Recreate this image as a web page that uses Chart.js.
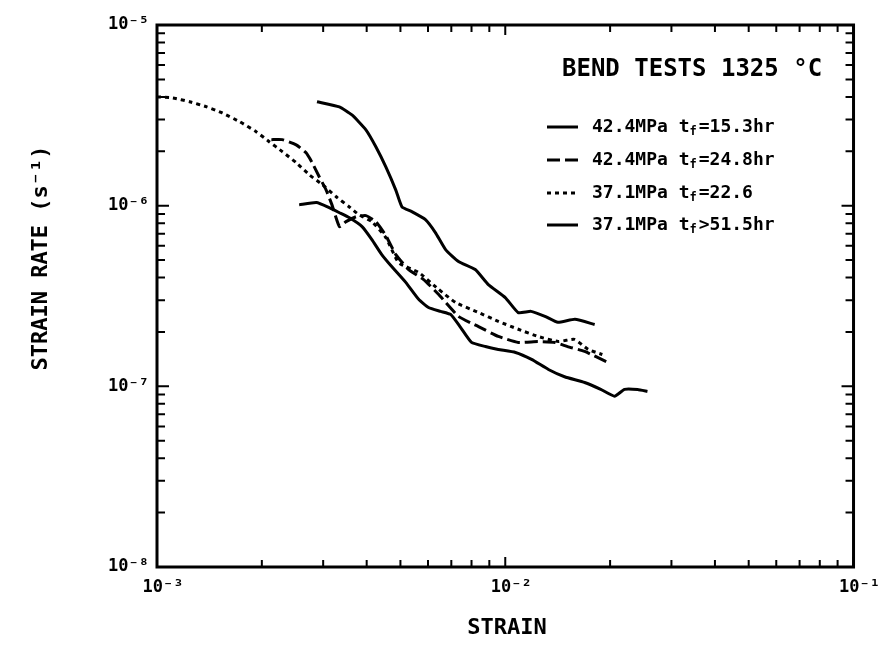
<!DOCTYPE html>
<html>
<head>
<meta charset="utf-8">
<script src="https://cdn.jsdelivr.net/npm/chart.js@4.4.0/dist/chart.umd.min.js"></script>
<style>
  html, body { margin: 0; padding: 0; background: #fff; }
  #wrap { width: 884px; height: 647px; }
</style>
</head>
<body>
<div id="wrap"><canvas id="bendChart" width="884" height="647"></canvas></div>
<script>
// bend tests at 1325 C : strain vs strain rate (1/s)
const strainA = [0.00288,0.00334,0.00363,0.00398,0.00425,0.00454,0.00485,0.00505,0.00539,0.0059,0.0063,0.00674,0.00734,0.0082,0.00894,0.0100,0.01089,0.01186,0.0130,0.01416,0.01585,0.01806];
const rateA   = [3.76e-6,3.52e-6,3.18e-6,2.63e-6,2.12e-6,1.64e-6,1.22e-6,9.86e-7,9.27e-7,8.37e-7,7.1e-7,5.71e-7,4.91e-7,4.43e-7,3.66e-7,3.10e-7,2.56e-7,2.60e-7,2.44e-7,2.26e-7,2.35e-7,2.20e-7];

const strainB = [0.00213,0.00229,0.00251,0.00268,0.00279,0.00292,0.00306,0.00318,0.00334,0.00349,0.00373,0.00398,0.00425,0.00454,0.00485,0.00528,0.00583,0.00644,0.00734,0.00838,0.00955,0.0109,0.0124,0.0139,0.0151,0.0169,0.0195];
const rateB   = [2.32e-6,2.32e-6,2.17e-6,1.96e-6,1.73e-6,1.45e-6,1.22e-6,1.01e-6,7.66e-7,8.16e-7,8.69e-7,8.81e-7,8.16e-7,6.83e-7,5.36e-7,4.43e-7,3.9e-7,3.22e-7,2.44e-7,2.14e-7,1.89e-7,1.75e-7,1.77e-7,1.75e-7,1.66e-7,1.56e-7,1.37e-7];

const strainC = [0.001,0.00111,0.00124,0.00139,0.00154,0.00173,0.00193,0.0021,0.00229,0.00251,0.00274,0.00298,0.00327,0.00356,0.0038,0.00414,0.00454,0.00494,0.00564,0.00644,0.0072,0.00838,0.00955,0.0109,0.0124,0.0142,0.0158,0.0173,0.019];
const rateC   = [4.0e-6,3.95e-6,3.76e-6,3.52e-6,3.26e-6,2.91e-6,2.56e-6,2.26e-6,1.99e-6,1.73e-6,1.48e-6,1.31e-6,1.12e-6,9.87e-7,8.91e-7,8.16e-7,6.66e-7,4.84e-7,4.27e-7,3.44e-7,2.91e-7,2.56e-7,2.29e-7,2.07e-7,1.89e-7,1.77e-7,1.82e-7,1.6e-7,1.5e-7];

const strainD = [0.00256,0.00287,0.00312,0.00334,0.00356,0.00388,0.00414,0.00442,0.00472,0.00518,0.00564,0.00602,0.00652,0.00697,0.00744,0.008,0.00877,0.00955,0.0107,0.0119,0.0133,0.0148,0.0169,0.0188,0.0206,0.022,0.024,0.0256];
const rateD   = [1.01e-6,1.04e-6,9.75e-7,9.14e-7,8.59e-7,7.66e-7,6.49e-7,5.36e-7,4.6e-7,3.76e-7,3.03e-7,2.73e-7,2.6e-7,2.5e-7,2.12e-7,1.75e-7,1.66e-7,1.6e-7,1.54e-7,1.41e-7,1.24e-7,1.13e-7,1.05e-7,9.62e-8,8.81e-8,9.62e-8,9.6e-8,9.37e-8];

const seriesStress = ['42.4MPa', '42.4MPa', '37.1MPa', '37.1MPa'];
const seriesLife   = ['=15.3hr', '=24.8hr', '=22.6', '>51.5hr'];
const seriesDash   = [[], [13, 5], [4, 4], []];

const xTickVals = [1e-3, 1e-2, 1e-1];
const xTickText = ['10\u207B\u00B3', '10\u207B\u00B2', '10\u207B\u00B9'];
const yTickVals = [1e-8, 1e-7, 1e-6, 1e-5];
const yTickText = ['10\u207B\u2078', '10\u207B\u2077', '10\u207B\u2076', '10\u207B\u2075'];

const chartTitle = 'BEND TESTS 1325 \u00B0C';
const xTitle = 'STRAIN';
const yTitle = 'STRAIN RATE (s\u207B\u00B9)';

const FONT = '"DejaVu Sans Mono", monospace';

function pts(xs, ys) { return xs.map((x, i) => ({ x: x, y: ys[i] })); }

const sets = [[strainA, rateA], [strainB, rateB], [strainC, rateC], [strainD, rateD]].map((s, i) => ({
  label: seriesStress[i] + ' tf' + seriesLife[i],
  data: pts(s[0], s[1]),
  showLine: true,
  borderColor: '#000',
  borderWidth: 3,
  borderDash: seriesDash[i],
  borderCapStyle: 'butt',
  borderJoinStyle: 'round',
  pointRadius: 0,
  tension: 0.15
}));

// inward ticks on all four sides, frame, titles and the key
const framePlugin = {
  id: 'frame',
  beforeDraw(chart) {
    const c = chart.ctx;
    c.save();
    c.fillStyle = '#fff';
    c.fillRect(0, 0, chart.width, chart.height);
    c.restore();
  },
  afterDraw(chart) {
    const c = chart.ctx, a = chart.chartArea;
    const xs = chart.scales.x, ys = chart.scales.y;
    c.save();
    c.strokeStyle = '#000';
    c.lineWidth = 3;
    c.strokeRect(a.left, a.top, a.right - a.left, a.bottom - a.top);

    c.lineWidth = 2;
    for (let e = -3; e <= -1; e++) {
      for (let k = 1; k <= 9; k++) {
        const v = k * Math.pow(10, e);
        if (v > 0.1 + 1e-9) break;
        const p = xs.getPixelForValue(v);
        const len = k === 1 ? 10 : 7;
        c.beginPath();
        c.moveTo(p, a.bottom); c.lineTo(p, a.bottom - len);
        c.moveTo(p, a.top); c.lineTo(p, a.top + len);
        c.stroke();
      }
    }
    for (let e = -8; e <= -5; e++) {
      for (let k = 1; k <= 9; k++) {
        const v = k * Math.pow(10, e);
        if (v > 1e-5 * 1.0001) break;
        const p = ys.getPixelForValue(v);
        const len = k === 1 ? 12 : 8;
        c.beginPath();
        c.moveTo(a.left, p); c.lineTo(a.left + len, p);
        c.moveTo(a.right, p); c.lineTo(a.right - len, p);
        c.stroke();
      }
    }

    c.fillStyle = '#000';
    c.font = 'bold 22px ' + FONT;
    c.textAlign = 'center';
    c.textBaseline = 'middle';
    c.fillText(xTitle, 507, 628);
    c.save();
    c.translate(41, 258);
    c.rotate(-Math.PI / 2);
    c.fillText(yTitle, 0, 0);
    c.restore();

    c.textAlign = 'left';
    c.font = 'bold 24px ' + FONT;
    c.fillText(chartTitle, 562, 70);

    const rowY = [127, 160, 193, 225];
    chart.data.datasets.forEach((ds, i) => {
      const y = rowY[i];
      c.save();
      c.lineWidth = 3;
      c.setLineDash(seriesDash[i]);
      c.beginPath();
      c.moveTo(547, y); c.lineTo(578, y);
      c.stroke();
      c.restore();
      c.font = 'bold 18px ' + FONT;
      c.fillText(seriesStress[i], 592, y);
      let x = 592 + c.measureText(seriesStress[i] + ' ').width;
      c.fillText('t', x, y);
      x += c.measureText('t').width;
      c.font = 'bold 12px ' + FONT;
      c.fillText('f', x, y + 5);
      x += c.measureText('f').width + 2;
      c.font = 'bold 18px ' + FONT;
      c.fillText(seriesLife[i], x, y);
    });
    c.restore();
  }
};

new Chart(document.getElementById('bendChart'), {
  type: 'scatter',
  data: { datasets: sets },
  options: {
    responsive: false,
    animation: false,
    layout: { padding: { top: 25, right: 27, left: 0, bottom: 0 } },
    plugins: { legend: { display: false }, tooltip: { enabled: false } },
    scales: {
      x: {
        type: 'logarithmic',
        min: 1e-3, max: 1e-1,
        afterBuildTicks: s => { s.ticks = xTickVals.map(v => ({ value: v })); },
        afterFit: s => { s.height = 80; },
        grid: { display: false, drawTicks: false },
        border: { display: false },
        ticks: {
          padding: 10,
          labelOffset: 6,
          color: '#000',
          font: { family: FONT, weight: 'bold', size: 17 },
          maxRotation: 0,
          callback: (v) => xTickText[xTickVals.findIndex(t => Math.abs(t - v) / t < 1e-6)] || ''
        }
      },
      y: {
        type: 'logarithmic',
        min: 1e-8, max: 1e-5,
        afterBuildTicks: s => { s.ticks = yTickVals.map(v => ({ value: v })); },
        afterFit: s => { s.width = 157; },
        grid: { display: false, drawTicks: false },
        border: { display: false },
        ticks: {
          padding: 8,
          color: '#000',
          font: { family: FONT, weight: 'bold', size: 17 },
          callback: (v) => yTickText[yTickVals.findIndex(t => Math.abs(t - v) / t < 1e-6)] || ''
        }
      }
    }
  },
  plugins: [framePlugin]
});
</script>
</body>
</html>
